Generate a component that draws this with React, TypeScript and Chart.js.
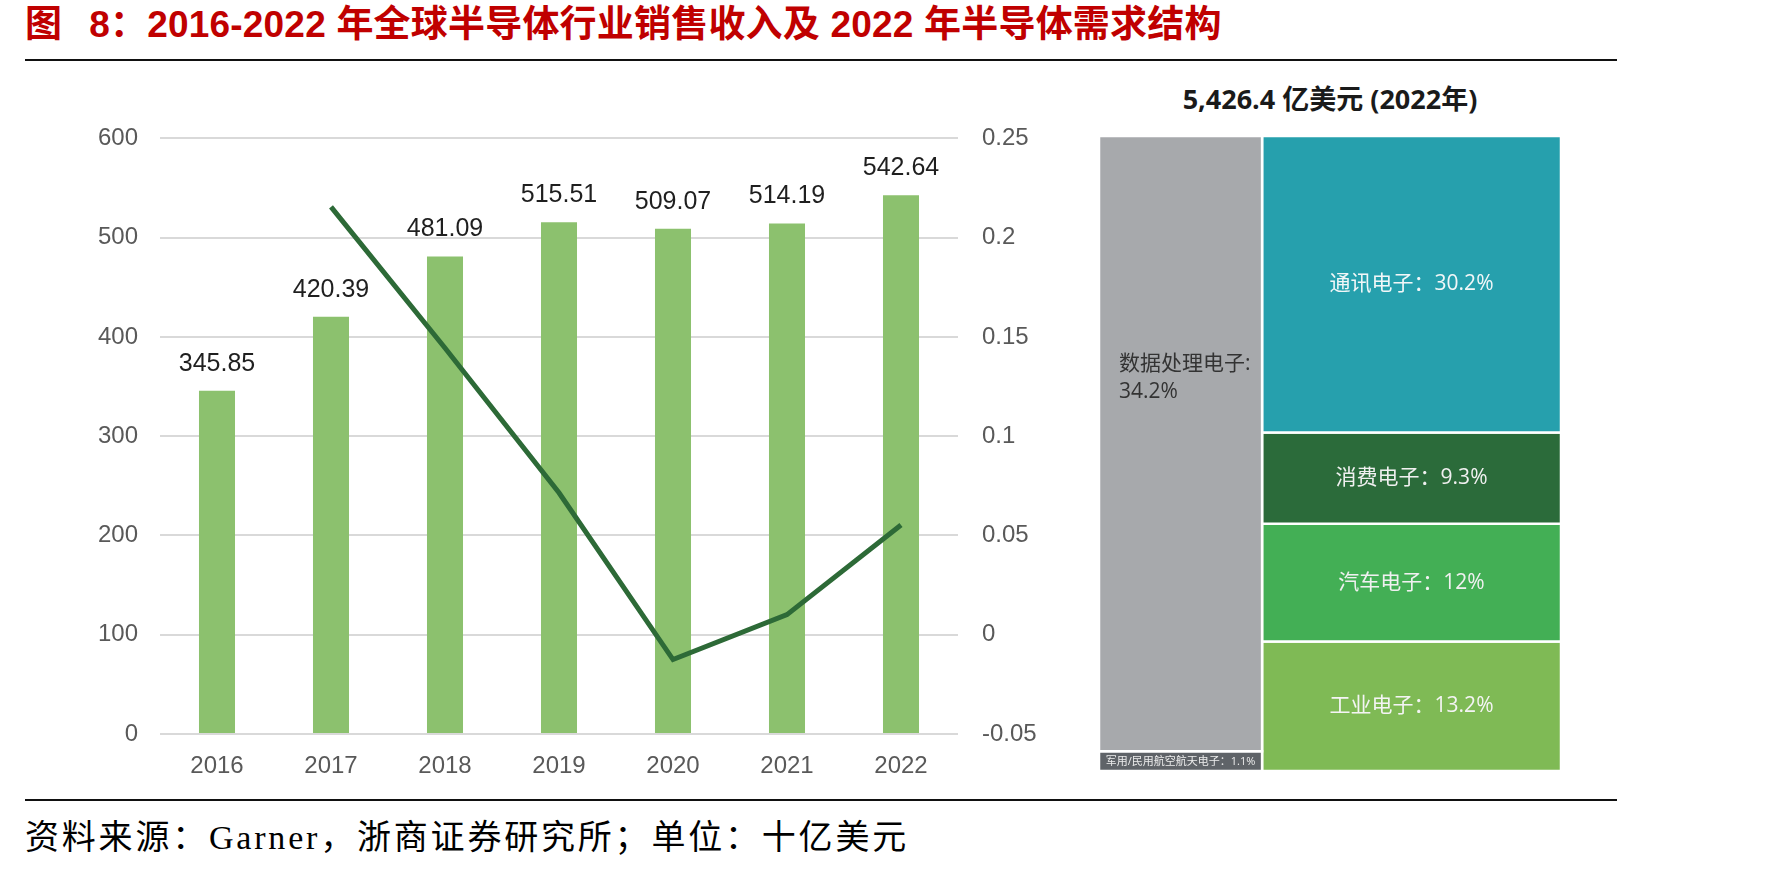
import React, { useEffect, useRef } from "react";
import { Chart, registerables } from "chart.js";

Chart.register(...registerables);

// Global semiconductor sales revenue (billion USD) and year-over-year growth
const years = ["2016", "2017", "2018", "2019", "2020", "2021", "2022"];
const salesRevenue = [345.85, 420.39, 481.09, 515.51, 509.07, 514.19, 542.64];
const yoyGrowth: (number | null)[] = [null, 0.2155, 0.1444, 0.0715, -0.0125, 0.0101, 0.0553];
const revenueTicks = [0, 100, 200, 300, 400, 500, 600];
const growthTicks = [-0.05, 0, 0.05, 0.1, 0.15, 0.2, 0.25];

// 2022 semiconductor demand structure (share of total, %)
const demandTotalLabel = "5,426.4 亿美元 (2022年)";
const segmentLabels = [
  ["数据处理电子:", "34.2%"],
  ["军用/民用航空航天电子：1.1%"],
  ["通讯电子：30.2%"],
  ["消费电子：9.3%"],
  ["汽车电子：12%"],
  ["工业电子：13.2%"],
];
const segmentShares = [34.2, 1.1, 30.2, 9.3, 12, 13.2];
const segmentColumns = [0, 0, 1, 1, 1, 1];
const segmentColors = ["#A7A9AC", "#5F6368", "#26A0AD", "#2B6B3A", "#43AF55", "#7FBA55"];
const segmentTextColors = ["#333333", "#EDEDED", "#F2F7F8", "#F0F0F0", "#F0F0F0", "#F4F4F4"];

const SANS = '"Liberation Sans", Arial, "Noto Sans CJK SC", sans-serif';
const LABEL_SANS = '"Open Sans", "Noto Sans CJK SC", sans-serif';

type Rect = { x0: number; x1: number; y0: number; y1: number };

// Slice-and-dice layout: columns split horizontally by their share, cells stacked inside.
function layoutSegments(): Rect[] {
  const colTotals = [0, 0];
  segmentShares.forEach((s, i) => (colTotals[segmentColumns[i]] += s));
  const total = colTotals[0] + colTotals[1];
  const rects: Rect[] = [];
  let x0 = 0;
  for (let c = 0; c < colTotals.length; c++) {
    const w = (colTotals[c] / total) * 100;
    let y0 = 0;
    segmentShares.forEach((s, i) => {
      if (segmentColumns[i] !== c) return;
      const h = (s / colTotals[c]) * 100;
      rects[i] = { x0, x1: x0 + w, y0, y1: y0 + h };
      y0 += h;
    });
    x0 += w;
  }
  return rects;
}

const barValueLabels = {
  id: "barValueLabels",
  afterDatasetsDraw(chart: any) {
    const { ctx } = chart;
    const meta = chart.getDatasetMeta(0);
    ctx.save();
    ctx.font = `25px ${SANS}`;
    ctx.fillStyle = "#1F1F1F";
    ctx.textAlign = "center";
    ctx.textBaseline = "middle";
    meta.data.forEach((bar: any, i: number) => {
      ctx.fillText(salesRevenue[i].toFixed(2), bar.x, bar.y - 27);
    });
    ctx.restore();
  },
};

const segmentTextPlugin = {
  id: "segmentText",
  afterDatasetsDraw(chart: any) {
    const { ctx } = chart;
    const xs = chart.scales.x;
    const ys = chart.scales.y;
    const rects = layoutSegments();
    ctx.save();
    rects.forEach((r, i) => {
      const left = xs.getPixelForValue(r.x0);
      const right = xs.getPixelForValue(r.x1);
      const top = ys.getPixelForValue(r.y0);
      const bottom = ys.getPixelForValue(r.y1);
      const lines = segmentLabels[i];
      ctx.fillStyle = segmentTextColors[i];
      ctx.textBaseline = "middle";
      if (i === 0) {
        ctx.font = `21px ${LABEL_SANS}`;
        ctx.textAlign = "left";
        const y = top + (bottom - top) * 0.37;
        lines.forEach((t, k) => ctx.fillText(t, left + 20, y + k * 28));
      } else if (i === 1) {
        ctx.font = `11px ${LABEL_SANS}`;
        ctx.textAlign = "center";
        ctx.fillText(lines[0], (left + right) / 2, (top + bottom) / 2 + 1);
      } else {
        ctx.font = `21px ${LABEL_SANS}`;
        ctx.textAlign = "center";
        ctx.fillText(lines[0], (left + right) / 2, (top + bottom) / 2);
      }
    });
    ctx.restore();
  },
};

function RevenueChart() {
  const ref = useRef<HTMLCanvasElement>(null);
  useEffect(() => {
    if (!ref.current) return;
    const tickFont = { size: 24, family: SANS };
    const chart = new Chart(ref.current, {
      type: "bar",
      data: {
        labels: years,
        datasets: [
          {
            type: "bar",
            data: salesRevenue,
            backgroundColor: "#8CC16E",
            yAxisID: "y",
            barPercentage: 0.316,
            categoryPercentage: 1,
            order: 1,
          },
          {
            type: "line",
            data: yoyGrowth,
            borderColor: "#2D6A37",
            borderWidth: 5,
            pointRadius: 0,
            tension: 0,
            yAxisID: "y1",
            order: 0,
          } as any,
        ],
      },
      options: {
        responsive: false,
        animation: false,
        layout: { padding: { top: 38, left: 0, right: 0, bottom: 0 } },
        plugins: { legend: { display: false }, tooltip: { enabled: false } },
        scales: {
          x: {
            grid: { display: false },
            border: { display: false },
            ticks: { font: tickFont, color: "#595959", padding: 10 },
            afterFit: (s: any) => {
              s.height = 56;
            },
          },
          y: {
            position: "left",
            min: revenueTicks[0],
            max: revenueTicks[revenueTicks.length - 1],
            ticks: { stepSize: revenueTicks[1] - revenueTicks[0], font: tickFont, color: "#595959", padding: 22 },
            grid: { color: "#D9D9D9", lineWidth: 2, drawTicks: false },
            border: { display: false },
            afterFit: (s: any) => {
              s.width = 120;
            },
          },
          y1: {
            position: "right",
            min: growthTicks[0],
            max: growthTicks[growthTicks.length - 1],
            ticks: {
              stepSize: 0.05,
              font: tickFont,
              color: "#595959",
              padding: 24,
              callback: (v: any) => String(Number(Number(v).toFixed(2))),
            },
            grid: { display: false, drawTicks: false },
            border: { display: false },
            afterFit: (s: any) => {
              s.width = 102;
            },
          },
        },
      } as any,
      plugins: [barValueLabels],
    });
    return () => chart.destroy();
  }, []);
  return (
    <canvas
      ref={ref}
      width={1020}
      height={690}
      style={{ position: "absolute", left: 40, top: 100, width: 1020, height: 690 }}
    />
  );
}

function DemandChart() {
  const ref = useRef<HTMLCanvasElement>(null);
  useEffect(() => {
    if (!ref.current) return;
    const rects = layoutSegments();
    const chart = new Chart(ref.current, {
      type: "scatter",
      data: {
        datasets: rects.map((r, i) => ({
          data: [
            { x: r.x0, y: r.y0 },
            { x: r.x1, y: r.y0 },
            { x: r.x1, y: r.y1 },
            { x: r.x0, y: r.y1 },
            { x: r.x0, y: r.y0 },
          ],
          showLine: true,
          fill: "shape",
          backgroundColor: segmentColors[i],
          borderColor: "#FFFFFF",
          borderWidth: 2.5,
          pointRadius: 0,
          tension: 0,
          clip: false,
        })),
      },
      options: {
        responsive: false,
        animation: false,
        layout: { padding: 0 },
        plugins: { legend: { display: false }, tooltip: { enabled: false } },
        scales: {
          x: { type: "linear", min: 0, max: 100, display: false },
          y: { type: "linear", min: 0, max: 100, reverse: true, display: false },
        },
      } as any,
      plugins: [segmentTextPlugin],
    });
    return () => chart.destroy();
  }, []);
  return (
    <canvas
      ref={ref}
      width={462}
      height={635}
      style={{ position: "absolute", left: 1099, top: 136, width: 462, height: 635 }}
    />
  );
}

export default function App() {
  return (
    <div
      style={{
        position: "absolute",
        left: 0,
        top: 0,
        width: 1771,
        height: 870,
        background: "#FFFFFF",
        overflow: "hidden",
      }}
    >
      <div
        style={{
          position: "absolute",
          left: 25,
          top: 6,
          fontFamily: '"Liberation Sans Narrow", "Liberation Sans", "Noto Sans CJK SC", sans-serif',
          fontWeight: 700,
          fontSize: 37,
          lineHeight: "37px",
          letterSpacing: 0.2,
          color: "#C00000",
          whiteSpace: "nowrap",
        }}
      >
        图<span style={{ marginLeft: 27 }}>8：2016-2022 年全球半导体行业销售收入及 2022 年半导体需求结构</span>
      </div>
      <div style={{ position: "absolute", left: 25, top: 59, width: 1592, height: 2, background: "#111" }} />
      <RevenueChart />
      <div
        style={{
          position: "absolute",
          left: 1099,
          width: 462,
          top: 84,
          textAlign: "center",
          fontFamily: LABEL_SANS,
          fontWeight: 700,
          fontSize: 27,
          lineHeight: "30px",
          color: "#1A1A1A",
          whiteSpace: "nowrap",
        }}
      >
        {demandTotalLabel}
      </div>
      <DemandChart />
      <div style={{ position: "absolute", left: 25, top: 799, width: 1592, height: 2, background: "#111" }} />
      <div
        style={{
          position: "absolute",
          left: 25,
          top: 821,
          fontFamily: '"Liberation Serif", "Noto Sans CJK SC", serif',
          fontSize: 34,
          lineHeight: "34px",
          letterSpacing: 2.8,
          color: "#000",
          whiteSpace: "nowrap",
        }}
      >
        资料来源：Garner，浙商证券研究所；单位：十亿美元
      </div>
    </div>
  );
}
